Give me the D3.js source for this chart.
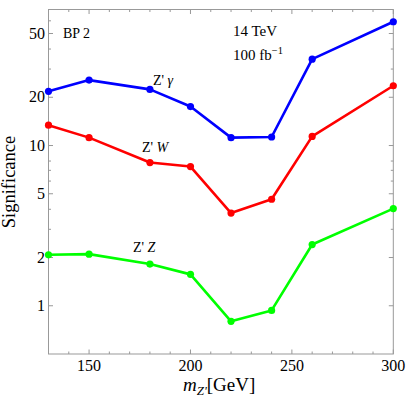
<!DOCTYPE html>
<html><head><meta charset="utf-8">
<script src="https://cdn.jsdelivr.net/npm/d3@7"></script>
<style>body{margin:0;background:#fff}svg{display:block}text{font-family:"Liberation Serif","DejaVu Serif",serif}</style>
</head><body><svg id="c" width="409" height="404"></svg>
<script>
const masses = [130,150,180,200,220,240,260,300];
const zGamma = [21.8,25.6,22.4,17.5,11.2,11.3,34.6,59.2];
const zW     = [13.4,11.2,7.83,7.39,3.79,4.62,11.4,23.6];
const zZ     = [2.08,2.10,1.82,1.57,0.80,0.935,2.41,4.04];
const yMajor = [1,2,5,10,20,50];
const yMinor = [3,4,6,7,8,30,40,60];
const xMajor = [150,200,250,300];
const xMinor = [140,160,170,180,190,210,220,230,240,260,270,280,290];

const svg = d3.select("#c");
const L=48.5,R=393.3,T=9.5,B=354;
const x = d3.scaleLinear().domain([130,300]).range([L,R]);
const y = d3.scaleLog().domain([0.5,70.6]).range([B,T]);
const frame="#999";

svg.append("rect").attr("x",L).attr("y",T).attr("width",R-L).attr("height",B-T)
  .attr("fill","none").attr("stroke",frame).attr("stroke-width",1);

const g = svg.append("g").attr("stroke",frame).attr("stroke-width",1);
function xt(vals,len){vals.forEach(v=>{const px=x(v);
  g.append("line").attr("x1",px).attr("x2",px).attr("y1",B).attr("y2",B-len);
  g.append("line").attr("x1",px).attr("x2",px).attr("y1",T).attr("y2",T+len);});}
function yt(vals,len){vals.forEach(v=>{const py=y(v);
  g.append("line").attr("x1",L).attr("x2",L+len).attr("y1",py).attr("y2",py);
  g.append("line").attr("x1",R).attr("x2",R-len).attr("y1",py).attr("y2",py);});}
xt(xMajor,4.5); xt(xMinor,2.5); yt(yMajor,4.5); yt(yMinor,2.5);

xMajor.forEach(v=>svg.append("text").attr("x",x(v)).attr("y",371).attr("text-anchor","middle")
  .attr("font-size",16).text(v));
yMajor.forEach(v=>svg.append("text").attr("x",45).attr("y",y(v)+5).attr("text-anchor","end")
  .attr("font-size",16).text(v));

const series=[{v:zGamma,c:"#0000ff"},{v:zW,c:"#ff0000"},{v:zZ,c:"#00ff00"}];
const line=d3.line().x((d,i)=>x(masses[i])).y(d=>y(d));
series.forEach(s=>{
  svg.append("path").datum(s.v).attr("d",line).attr("fill","none").attr("stroke",s.c)
    .attr("stroke-width",2.6).attr("stroke-linejoin","round");
  svg.selectAll(null).data(s.v).enter().append("circle")
    .attr("cx",(d,i)=>x(masses[i])).attr("cy",d=>y(d)).attr("r",3.6).attr("fill",s.c);
});

svg.append("text").attr("x",63).attr("y",37.5).attr("font-size",14).text("BP 2");
svg.append("text").attr("x",233).attr("y",36).attr("font-size",15).text("14 TeV");
const fb=svg.append("text").attr("x",233).attr("y",60).attr("font-size",15);
fb.append("tspan").text("100 fb");
fb.append("tspan").attr("dy",-6).attr("font-size",10.5).text("\u22121");

function zlab(xp,yp,sym){const t=svg.append("text").attr("x",xp).attr("y",yp).attr("font-size",14);
  t.append("tspan").text("Z' ");
  t.append("tspan").attr("font-style","italic").text(sym);}
zlab(153,85,"γ"); zlab(142,152,"W"); zlab(133,252,"Z");

svg.append("text").attr("transform","translate(14.5,182) rotate(-90)").attr("text-anchor","middle")
  .attr("font-size",18.5).text("Significance");
const xl=svg.append("text").attr("x",183).attr("y",391).attr("font-size",19);
xl.append("tspan").attr("font-style","italic").text("m");
xl.append("tspan").attr("font-style","italic").attr("font-size",13).attr("dy",4).text("Z'");
xl.append("tspan").attr("dy",-4).text("[GeV]");
</script></body></html>
